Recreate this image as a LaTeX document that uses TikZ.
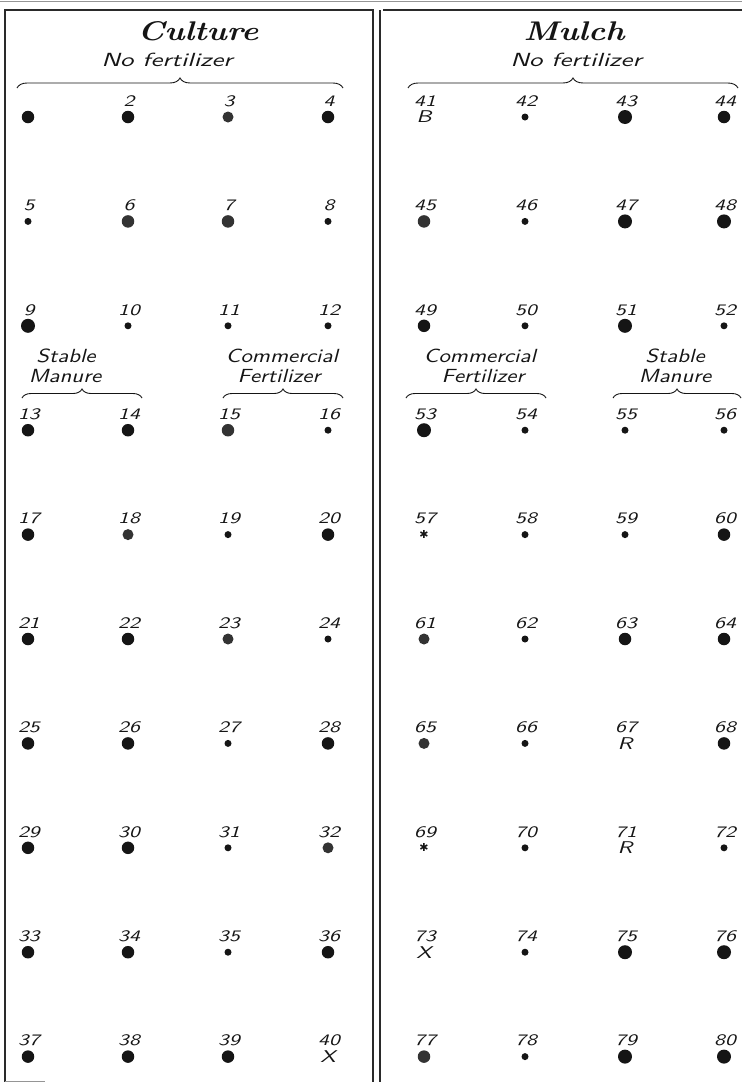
\documentclass[tikz,border=0pt]{standalone}
\usepackage{fontspec}
\usetikzlibrary{decorations.pathreplacing}
\newfontfamily\hand{lmsans10-oblique.otf}[FakeStretch=1.35]
\newfontfamily\handw{lmsans10-oblique.otf}[FakeStretch=1.4]
\newfontfamily\handm{lmsans10-oblique.otf}[FakeStretch=1.2]
\newfontfamily\titlefont{lmroman10-bolditalic.otf}[FakeStretch=1.2]
\newfontfamily\djv{DejaVu Sans}
\definecolor{ink}{HTML}{151515}
\definecolor{inkg}{HTML}{333333}
\definecolor{rule}{HTML}{2A2A2A}
\tikzset{
  dXL/.style={circle,fill=ink,inner sep=0pt,minimum size=14pt},
  dL/.style={circle,fill=ink,inner sep=0pt,minimum size=12.5pt},
  dLg/.style={circle,fill=inkg,inner sep=0pt,minimum size=12.5pt},
  dMg/.style={circle,fill=inkg,inner sep=0pt,minimum size=11pt},
  dS/.style={circle,fill=ink,inner sep=0pt,minimum size=7pt},
  lab/.style={font=\hand\fontsize{16}{16}\selectfont,inner sep=0pt,text=ink},
  sym/.style={font=\hand\fontsize{17}{17}\selectfont,inner sep=0pt,text=ink},
  star/.style={font=\djv\fontsize{11}{11}\selectfont,inner sep=0pt,text=ink},
  head/.style={font=\titlefont\fontsize{27}{27}\selectfont,inner sep=0pt,text=ink},
  subhead/.style={font=\handm\fontsize{19}{19}\selectfont,inner sep=0pt,text=ink},
  grp/.style={font=\handw\fontsize{19}{19}\selectfont,inner sep=0pt,text=ink},
  bracebig/.style={draw=ink,line width=0.9pt,decorate,decoration={brace,amplitude=10pt}},
  bracesmall/.style={draw=ink,line width=0.9pt,decorate,decoration={brace,amplitude=9pt}},
  frame/.style={draw=rule,line width=1.1pt},
  faint/.style={draw=rule!50,line width=0.6pt}
}
\begin{document}
\begin{tikzpicture}[x=1pt,y=-1pt]
\useasboundingbox (0,0) rectangle (742,1082);
\fill[white] (0,0) rectangle (742,1082);
% frame
\coordinate (fa) at (0,1);
\coordinate (fb) at (742,1);
\draw[faint] (fa) -- (fb);
\coordinate (tl) at (5,10);
\coordinate (tm) at (373,10);
\coordinate (bl) at (5,1082);
\coordinate (bm) at (373,1082);
\coordinate (tm2) at (380,10);
\coordinate (bm2) at (380,1082);
\coordinate (tr) at (742,10);
\coordinate (tr0) at (383,10);
\draw[frame] (bl) -- (tl) -- (tm) -- (bm);
\draw[frame] (bm2) -- (tm2);
\draw[frame] (tr0) -- (tr);
\coordinate (bb1) at (5,1081);
\coordinate (bb2) at (45,1081);
\draw[faint] (bb1) -- (bb2);
% headings
\node[head] (hC) at (198,31) {Culture};
\node[head] (hM) at (574,31) {Mulch};
\node[grp] (nf1) at (167,60) {No fertilizer};
\node[grp] (nf2) at (576,60) {No fertilizer};
\coordinate (b1a) at (17,88); \coordinate (b1b) at (343,88);
\coordinate (b2a) at (408,88); \coordinate (b2b) at (738,88);
\draw[bracebig] (b1a) -- (b1b);
\draw[bracebig] (b2a) -- (b2b);
% sub headings
\node[subhead] (s1) at (66,356) {Stable};
\node[subhead] (s2) at (65,376) {Manure};
\node[subhead] (s3) at (282,356) {Commercial};
\node[subhead] (s4) at (279,376) {Fertilizer};
\node[subhead] (s5) at (480,356) {Commercial};
\node[subhead] (s6) at (483,376) {Fertilizer};
\node[subhead] (s7) at (675,356) {Stable};
\node[subhead] (s8) at (675,376) {Manure};
\coordinate (c1a) at (22,398); \coordinate (c1b) at (142,398);
\coordinate (c2a) at (223,398); \coordinate (c2b) at (343,398);
\coordinate (c3a) at (406,398); \coordinate (c3b) at (546,398);
\coordinate (c4a) at (613,398); \coordinate (c4b) at (741,398);
\draw[bracesmall] (c1a) -- (c1b);
\draw[bracesmall] (c2a) -- (c2b);
\draw[bracesmall] (c3a) -- (c3b);
\draw[bracesmall] (c4a) -- (c4b);
% plot 1 (no label)
\node[dL] (d1) at (28,117) {};
% plots with dots
\foreach \n/\x/\r/\s in {
 2/128/1/dL, 3/228/1/dMg, 4/328/1/dL,
 5/28/2/dS, 6/128/2/dLg, 7/228/2/dLg, 8/328/2/dS,
 9/28/3/dXL, 10/128/3/dS, 11/228/3/dS, 12/328/3/dS,
 13/28/4/dL, 14/128/4/dL, 15/228/4/dLg, 16/328/4/dS,
 17/28/5/dL, 18/128/5/dMg, 19/228/5/dS, 20/328/5/dL,
 21/28/6/dL, 22/128/6/dL, 23/228/6/dMg, 24/328/6/dS,
 25/28/7/dL, 26/128/7/dL, 27/228/7/dS, 28/328/7/dL,
 29/28/8/dL, 30/128/8/dL, 31/228/8/dS, 32/328/8/dMg,
 33/28/9/dL, 34/128/9/dL, 35/228/9/dS, 36/328/9/dL,
 37/28/10/dL, 38/128/10/dL, 39/228/10/dL,
 42/525/1/dS, 43/625/1/dXL, 44/724/1/dL,
 45/424/2/dLg, 46/525/2/dS, 47/625/2/dXL, 48/724/2/dXL,
 49/424/3/dL, 50/525/3/dS, 51/625/3/dXL, 52/724/3/dS,
 53/424/4/dXL, 54/525/4/dS, 55/625/4/dS, 56/724/4/dS,
 58/525/5/dS, 59/625/5/dS, 60/724/5/dL,
 61/424/6/dMg, 62/525/6/dS, 63/625/6/dL, 64/724/6/dL,
 65/424/7/dMg, 66/525/7/dS, 68/724/7/dL,
 70/525/8/dS, 72/724/8/dS,
 74/525/9/dS, 75/625/9/dXL, 76/724/9/dXL,
 77/424/10/dLg, 78/525/10/dS, 79/625/10/dXL, 80/724/10/dXL}
{
 \pgfmathsetmacro{\yy}{117+104.4*(\r-1)}
 \node[\s] (d\n) at (\x,\yy) {};
 \node[lab] (l\n) at (\x+1,\yy-16) {\n};
}
% plots with letters
\foreach \n/\x/\r/\t in {
 40/328/10/X, 41/424/1/B, 67/625/7/R, 71/625/8/R, 73/424/9/X}
{
 \pgfmathsetmacro{\yy}{117+104.4*(\r-1)}
 \node[sym] (d\n) at (\x,\yy) {\t};
 \node[lab] (l\n) at (\x+1,\yy-16) {\n};
}
% plots with asterisks
\foreach \n/\x/\r in {57/424/5, 69/424/8}
{
 \pgfmathsetmacro{\yy}{117+104.4*(\r-1)}
 \node[star] (d\n) at (\x,\yy) {✱};
 \node[lab] (l\n) at (\x+1,\yy-16) {\n};
}
\end{tikzpicture}
\end{document}
